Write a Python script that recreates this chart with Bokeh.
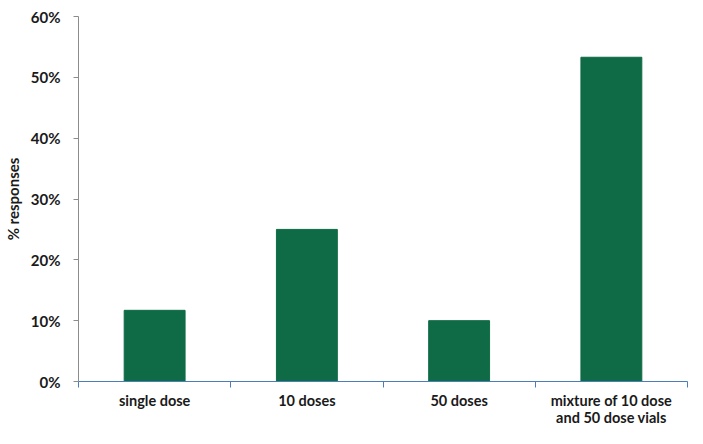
from bokeh.plotting import figure
from bokeh.models import ColumnDataSource, FixedTicker, NumeralTickFormatter, Range1d
from bokeh.embed import file_html
from bokeh.resources import INLINE

categories = ["single dose", "10 doses", "50 doses", "mixture of 10 dose\nand 50 dose vials"]
values = [0.117, 0.25, 0.10, 0.533]
y_ticks = [0, 0.1, 0.2, 0.3, 0.4, 0.5, 0.6]

xs = [i + 0.5 for i in range(len(categories))]
source = ColumnDataSource(dict(x=xs, top=values))

p = figure(width=692, height=428, output_backend="svg", toolbar_location=None,
           x_range=Range1d(0, len(categories)), y_range=Range1d(0, 0.6),
           min_border_left=71, min_border_top=16, min_border_right=5, min_border_bottom=36)
p.vbar(x="x", top="top", width=0.4, bottom=0, source=source,
       fill_color="#0f6b45", line_color="#0f6b45")

p.outline_line_color = None
p.xgrid.grid_line_color = None
p.ygrid.grid_line_color = None

font = "Lato"
fs = "15px"
xa = p.xaxis[0]
xa.ticker = FixedTicker(ticks=xs, minor_ticks=list(range(len(categories) + 1)))
xa.major_label_overrides = {x: c for x, c in zip(xs, categories)}
xa.major_tick_out = 0
xa.major_tick_in = 0
xa.minor_tick_out = 6
xa.minor_tick_in = 0
xa.minor_tick_line_color = "#4a7ebb"
xa.axis_line_color = "#4a7ebb"
xa.major_label_text_font = font
xa.major_label_text_font_style = "bold"
xa.major_label_text_font_size = "14.5px"
xa.major_label_text_line_height = 1.0
xa.major_label_text_color = "#1a1a1a"
xa.major_label_standoff = 4

ya = p.yaxis[0]
ya.ticker = FixedTicker(ticks=y_ticks)
ya.formatter = NumeralTickFormatter(format="0%")
ya.axis_line_color = "#8c8c8c"
ya.major_tick_line_color = "#8c8c8c"
ya.major_tick_out = 5
ya.major_tick_in = 0
ya.minor_tick_line_color = None
ya.major_label_text_font = font
ya.major_label_text_font_style = "bold"
ya.major_label_text_font_size = fs
ya.major_label_text_color = "#1a1a1a"
ya.major_label_standoff = 13
ya.axis_label = "% responses"
ya.axis_label_text_font = font
ya.axis_label_text_font_style = "bold"
ya.axis_label_text_font_size = fs
ya.axis_label_text_color = "#1a1a1a"
ya.axis_label_standoff = 6

open("out.html", "w").write(file_html(p, INLINE))
